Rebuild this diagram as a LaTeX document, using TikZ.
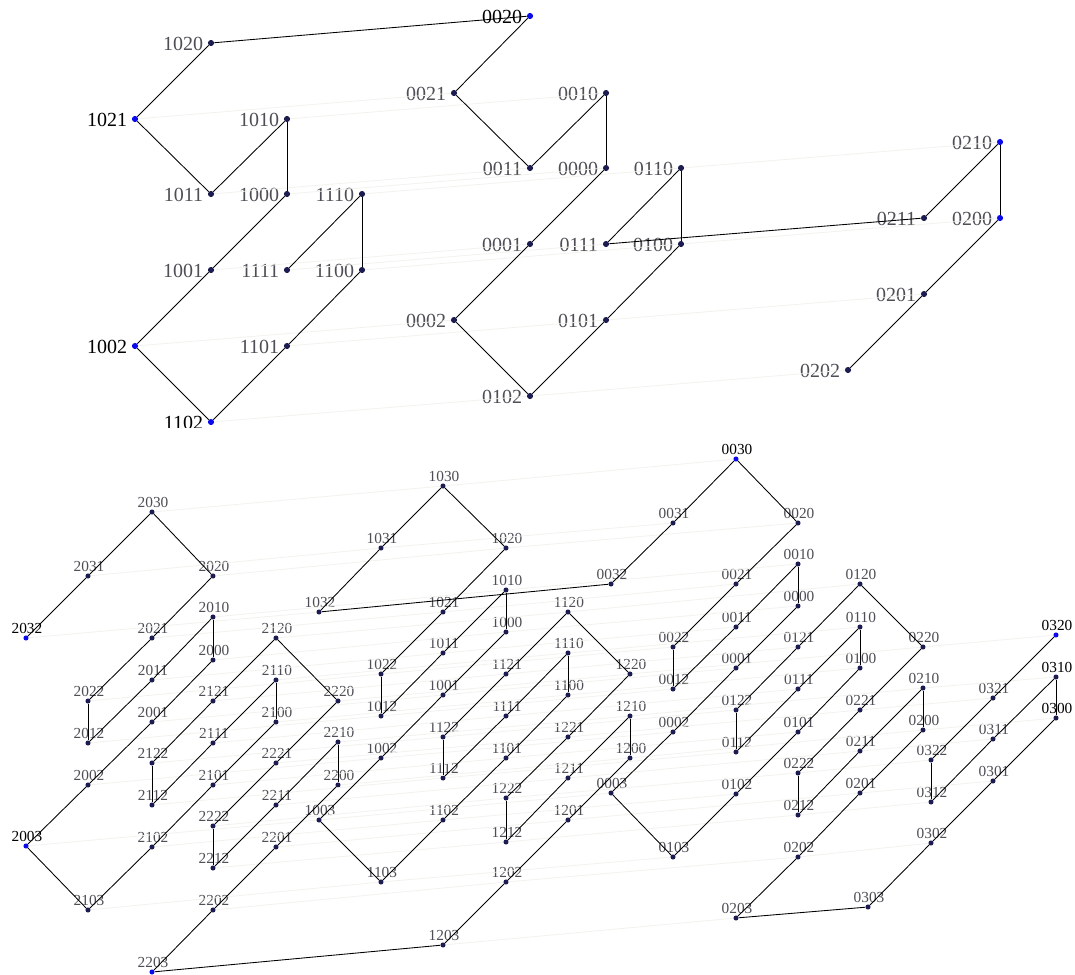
\documentclass[tikz,border=0pt]{standalone}
\usepackage{fontspec}
\setmainfont{Liberation Serif}
\definecolor{dn}{RGB}{28,28,80}
\definecolor{db}{RGB}{10,10,235}
\definecolor{lg}{RGB}{78,78,86}
\definecolor{lk}{RGB}{0,0,0}
\definecolor{fl}{RGB}{242,242,238}
\begin{document}
\begin{tikzpicture}[x=0.75pt,y=-0.75pt,
  tdot/.style={circle,inner sep=0pt,minimum size=4.6pt},
  bdot/.style={circle,inner sep=0pt,minimum size=3.8pt},
  tlab/.style={inner sep=0pt,font=\fontsize{15}{18}\selectfont},
  blab/.style={inner sep=0pt,font=\fontsize{11.5}{14}\selectfont},
  edge/.style={draw=black,line width=0.65pt},
  faint/.style={draw=fl,line width=0.6pt}]
\useasboundingbox (0,0) rectangle (1075,975);
\fill[white] (0,0) rectangle (1075,975);

% ---------------- top part ----------------
\begin{scope}
\clip (0,0) rectangle (1075,427);
\foreach \n/\x/\y/\c/\l in {
  1020/211/43/dn/lg, 0020/530/16/db/lk, 0021/454/93/dn/lg, 0010/606/93/dn/lg,
  1021/135/119/db/lk, 1010/287/119/dn/lg, 0011/530/168/dn/lg, 0000/606/168/dn/lg,
  0110/681/168/dn/lg, 1011/211/194/dn/lg, 1000/287/194/dn/lg, 1110/362/194/dn/lg,
  0210/1000/142/db/lg, 0001/530/244/dn/lg, 0111/606/244/dn/lg, 0100/681/244/dn/lg,
  0211/924/218/dn/lg, 0200/1000/218/db/lg, 1001/211/270/dn/lg, 1111/287/270/dn/lg,
  1100/362/270/dn/lg, 0002/454/320/dn/lg, 0101/606/320/dn/lg, 0201/924/294/dn/lg,
  1002/135/346/db/lk, 1101/287/346/dn/lg, 0102/530/396/dn/lg, 0202/848/370/dn/lg,
  1102/211/422/db/lk}
{
  \node[tdot,fill=\c] (T\n) at (\x,\y) {};
  \node[tlab,text=\l,anchor=base east] (T\n l) at (\x-7.5,\y+7.5) {\n};
}
\foreach \s in {021,010,011,000,001,002,110,111,100,101,102}
  \draw[faint] (T1\s) -- (T0\s);
\foreach \s in {10,00,01,02}
  \draw[faint] (T01\s) -- (T02\s);
\foreach \a/\b in {1020/0020,1020/1021,1021/1011,1011/1010,1010/1000,1000/1001,
  1001/1002,1002/1102,1102/1101,1101/1100,1100/1110,1110/1111,
  0020/0021,0021/0011,0011/0010,0010/0000,0000/0001,0001/0002,0002/0102,
  0102/0101,0101/0100,0100/0110,0110/0111,0111/0211,0211/0210,0210/0200,
  0200/0201,0201/0202}
  \draw[edge] (T\a) -- (T\b);
\end{scope}

% ---------------- bottom part ----------------
\foreach \n/\x/\y/\c/\l in {
  2030/152/512/dn/lg, 2031/88/576/dn/lg, 2020/213/576/dn/lg, 2032/26/638/db/lk,
  2021/152/638/dn/lg, 2010/213/617/dn/lg, 2120/276/638/dn/lg, 2000/213/660/dn/lg,
  2011/152/680/dn/lg, 2110/276/680/dn/lg, 2022/88/701/dn/lg, 2121/213/701/dn/lg,
  2220/338/701/dn/lg, 2001/152/722/dn/lg, 2100/276/722/dn/lg, 2012/88/743/dn/lg,
  2111/213/743/dn/lg, 2210/338/742/dn/lg, 2122/152/763/dn/lg, 2221/276/763/dn/lg,
  2002/88/785/dn/lg, 2101/213/785/dn/lg, 2200/338/785/dn/lg, 2112/152/805/dn/lg,
  2211/276/805/dn/lg, 2222/213/826/dn/lg, 2003/26/846/db/lk, 2102/152/847/dn/lg,
  2201/276/847/dn/lg, 2212/213/868/dn/lg, 2103/88/910/dn/lg, 2202/213/910/dn/lg,
  2203/152/972/db/lg,
  1030/443/486/dn/lg, 1031/381/548/dn/lg, 1020/506/548/dn/lg, 1032/319/612/dn/lg,
  1021/443/612/dn/lg, 1010/506/590/dn/lg, 1120/568/612/dn/lg, 1000/506/632/dn/lg,
  1011/443/653/dn/lg, 1110/568/653/dn/lg, 1022/381/674/dn/lg, 1121/506/674/dn/lg,
  1220/630/674/dn/lg, 1001/443/695/dn/lg, 1100/568/695/dn/lg, 1012/381/716/dn/lg,
  1111/506/716/dn/lg, 1210/630/716/dn/lg, 1122/443/737/dn/lg, 1221/568/737/dn/lg,
  1002/381/758/dn/lg, 1101/506/758/dn/lg, 1200/630/758/dn/lg, 1112/443/778/dn/lg,
  1211/568/778/dn/lg, 1222/506/798/dn/lg, 1003/319/820/dn/lg, 1102/443/820/dn/lg,
  1201/568/820/dn/lg, 1212/506/842/dn/lg, 1103/381/882/dn/lg, 1202/506/882/dn/lg,
  1203/443/945/dn/lg,
  0030/736/459/db/lk, 0031/673/523/dn/lg, 0020/798/523/dn/lg, 0032/611/584/dn/lg,
  0021/736/584/dn/lg, 0010/798/564/dn/lg, 0120/860/584/dn/lg, 0000/798/606/dn/lg,
  0011/736/627/dn/lg, 0110/860/627/dn/lg, 0022/673/647/dn/lg, 0121/798/647/dn/lg,
  0220/923/647/dn/lg, 0001/736/668/dn/lg, 0100/860/668/dn/lg, 0012/673/689/dn/lg,
  0111/798/689/dn/lg, 0210/923/688/dn/lg, 0122/736/710/dn/lg, 0221/860/710/dn/lg,
  0002/673/732/dn/lg, 0101/798/732/dn/lg, 0200/923/730/dn/lg, 0112/736/752/dn/lg,
  0211/860/751/dn/lg, 0222/798/773/dn/lg, 0003/611/793/dn/lg, 0102/736/794/dn/lg,
  0201/860/793/dn/lg, 0212/798/815/dn/lg, 0103/673/857/dn/lg, 0202/798/857/dn/lg,
  0203/736/918/dn/lg,
  0320/1056/635/db/lk, 0310/1056/677/dn/lk, 0300/1056/718/dn/lk,
  0321/993/698/dn/lg, 0311/993/739/dn/lg, 0301/993/781/dn/lg,
  0322/931/760/dn/lg, 0312/931/802/dn/lg, 0302/931/843/dn/lg, 0303/868/907/dn/lg}
{
  \node[bdot,fill=\c] (B\n) at (\x,\y) {};
  \node[blab,text=\l,anchor=base] (B\n l) at (\x+1,\y-4.5) {\n};
}
% faint correspondence lines
\foreach \s in {030,031,032,020,021,022,010,011,012,000,001,002,003,120,121,122,
  110,111,112,100,101,102,103,220,221,222,210,211,212,200,201,202}
  \draw[faint] (B2\s) -- (B1\s);
\foreach \s in {030,031,020,021,022,010,011,012,000,001,002,003,120,121,122,
  110,111,112,100,101,102,103,220,221,222,210,211,212,200,201,202,203}
  \draw[faint] (B1\s) -- (B0\s);
\foreach \s in {20,21,22,10,11,12,00,01,02}
  \draw[faint] (B02\s) -- (B03\s);
% solid chains
\foreach \g in {0,1,2}{
  \foreach \a/\b in {030/031,030/020,031/032,020/021,021/022,022/012,012/011,
    011/010,010/000,000/001,001/002,002/003,003/103,103/102,102/101,101/100,
    100/110,110/111,111/112,112/122,122/121,121/120,120/220,220/221,221/222,
    222/212,212/211,211/210,210/200,200/201,201/202,202/203}
    \draw[edge] (B\g\a) -- (B\g\b);
}
\draw[edge] (B2203) -- (B1203);
\draw[edge] (B1032) -- (B0032);
\foreach \a/\b in {0203/0303,0303/0302,0302/0301,0301/0300,0300/0310,
  0310/0311,0311/0312,0312/0322,0322/0321,0321/0320}
  \draw[edge] (B\a) -- (B\b);
\end{tikzpicture}
\end{document}
